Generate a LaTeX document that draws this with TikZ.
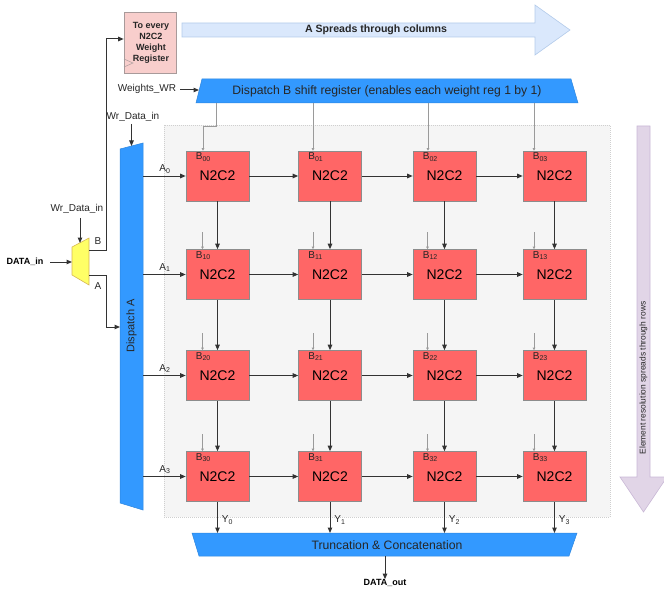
\documentclass[tikz,border=0pt]{standalone}
\usepackage{fontspec}
\setmainfont{Liberation Sans}
\usetikzlibrary{arrows.meta,calc}
\definecolor{cellred}{HTML}{FF6666}
\definecolor{cellborder}{HTML}{8C8C8C}
\definecolor{dispblue}{HTML}{3399FF}
\definecolor{dispdraw}{HTML}{2E86DE}
\definecolor{pinkf}{HTML}{F8CECC}
\definecolor{pinkd}{HTML}{A89A9A}
\definecolor{arrowblue}{HTML}{DAE8FC}
\definecolor{arrowbluedraw}{HTML}{B3CBEA}
\definecolor{lilac}{HTML}{E1D5E7}
\definecolor{lilacdraw}{HTML}{C9B8D6}
\definecolor{panel}{HTML}{F5F5F5}
\definecolor{paneldraw}{HTML}{CFCFCF}
\definecolor{muxy}{HTML}{FFFF66}
\definecolor{muxd}{HTML}{D6B656}
\definecolor{wirec}{HTML}{333333}
\definecolor{feedc}{HTML}{9A9A9A}
\begin{document}
\begin{tikzpicture}[x=1pt,y=-1pt,
  cell/.style={draw=cellborder, fill=cellred, line width=0.6pt, minimum width=63pt, minimum height=50pt, inner sep=0pt, font=\fontsize{14}{14}\selectfont},
  wire/.style={draw=wirec, line width=1pt, -{Triangle[length=5.5pt,width=4.5pt]}},
  feed/.style={draw=feedc, line width=0.6pt, -{Triangle[length=2.5pt,width=2.5pt]}},
  lbl/.style={font=\fontsize{10}{10}\selectfont, inner sep=0pt, text=black!85},
  blbl/.style={font=\fontsize{9}{9}\selectfont\bfseries, inner sep=0pt},
  disp/.style={fill=dispblue, draw=dispdraw, line width=0.5pt},
]
\useasboundingbox (0,0) rectangle (664,591);

% background panel
\draw[fill=panel, draw=paneldraw, dash pattern=on 1pt off 1pt] (164,125) rectangle (610,517);

% big arrows
\draw[fill=arrowblue, draw=arrowbluedraw, line width=0.6pt] (182,23) -- (535,23) -- (535,5) -- (570,30) -- (535,55) -- (535,37) -- (182,37) -- cycle;
\node[font=\fontsize{10.6}{10.6}\selectfont\bfseries, inner sep=0pt, text=black!85] (acol) at (376,29.5) {A Spreads through columns};
\draw[fill=lilac, draw=lilacdraw, line width=0.6pt] (637,126) -- (650,126) -- (650,477) -- (667,477) -- (643.5,512) -- (620,477) -- (637,477) -- cycle;
\node[font=\fontsize{8.4}{8.4}\selectfont, inner sep=0pt, rotate=90, text=black!85] (erow) at (643.5,378) {Element resolution spreads through rows};

% pink weight register box
\node[draw=pinkd, fill=pinkf, line width=0.6pt, minimum width=52pt, minimum height=61pt, inner sep=0pt] (wreg) at (150,42.5) {};
\node[font=\fontsize{9}{11}\selectfont\bfseries, align=center, inner sep=0pt, text=black!85] (wregt) at (151,43) {To every\\N2C2\\Weight\\Register};
\draw[draw=pinkd, line width=0.5pt] (124,59) -- (133,63) -- (124,67);

% dispatch B shift register
\draw[disp] (202,79) -- (571,79) -- (578,103) -- (196,103) -- cycle;
\node[font=\fontsize{12.2}{12.2}\selectfont, inner sep=0pt, text=black!85] (dispB) at (387,91) {Dispatch B shift register (enables each weight reg 1 by 1)};
\node[lbl] (wwr) at (147,89) {Weights\_WR};
\coordinate (dBin) at (199,90);
\draw[wire] (180,90) -- (dBin);

% dispatch A
\draw[disp] (120,149) -- (143,143) -- (143,510) -- (120,503) -- cycle;
\node[font=\fontsize{11}{11}\selectfont, inner sep=0pt, rotate=90, text=black!85] (dispA) at (131.5,326) {Dispatch A};
\node[lbl] (wdA) at (133,117) {Wr\_Data\_in};
\coordinate (dAtop) at (131.5,146);
\draw[wire] (131.5,124) -- (dAtop);

% mux
\draw[fill=muxy, draw=muxd, line width=0.6pt] (72,247) -- (89,238) -- (89,285) -- (72,275) -- cycle;
\coordinate (muxin) at (72,262);
\coordinate (muxsel) at (80,243);
\coordinate (muxB) at (89,250);
\coordinate (muxA) at (89,275);
\node[blbl] (din) at (25,262) {DATA\_in};
\draw[wire] (50,262) -- (muxin);
\node[lbl] (wdM) at (77,209) {Wr\_Data\_in};
\draw[wire] (80,218) -- (muxsel);
\node[lbl] (lB) at (98,241) {B};
\node[lbl] (lA) at (98,286) {A};
\coordinate (dAin) at (120,327);
\draw[wire] (muxB) -- (106,250) -- (106,39) -- (wreg.west |- 0,39);
\draw[wire] (muxA) -- (106,275) -- (106,327) -- (dAin);

% cells
\foreach \r/\y in {0/176,1/274.5,2/375.5,3/476.5}{
  \foreach \c/\x in {0/217.5,1/330,2/444.5,3/554.5}{
    \node[cell] (b\r\c) at (\x,\y) {N2C2};
    \node[lbl, anchor=north west] (lb\r\c) at ($(b\r\c.north west)+(10,2)$) {B\textsubscript{\r\c}};
  }
  \coordinate (aout\r) at (143,\y);
  \draw[wire] (aout\r) -- (b\r0.west);
  \node[lbl] (la\r) at (165,\y-7) {A\textsubscript{\r}};
}

% horizontal and vertical connections
\foreach \r in {0,1,2,3}{
  \foreach \c/\cc in {0/1,1/2,2/3}{
    \draw[wire] (b\r\c.east) -- (b\r\cc.west);
  }
}
\foreach \r/\rr in {0/1,1/2,2/3}{
  \foreach \c in {0,1,2,3}{
    \draw[wire] (b\r\c.south) -- (b\rr\c.north);
  }
}

% B feeds
\draw[feed] (216,103) -- (216,126) -- (203,126) -- (b00.north west -| 203,0);
\draw[feed] (313,103) -- (b01.north west -| 313,0);
\draw[feed] (428,103) -- (b02.north west -| 428,0);
\draw[feed] (534,103) -- (b03.north west -| 534,0);
\foreach \r in {1,2,3}{
  \foreach \c/\fx in {0/202.5,1/313,2/427.5,3/534}{
    \draw[feed] ($(b\r\c.north west -| \fx,0)+(0,-17)$) -- (b\r\c.north west -| \fx,0);
  }
}

% truncation & concatenation
\draw[disp] (192,533) -- (577,533) -- (569,556) -- (199,556) -- cycle;
\node[font=\fontsize{12.2}{12.2}\selectfont, inner sep=0pt, text=black!85] (trunc) at (387,545) {Truncation \& Concatenation};
\foreach \c/\x in {0/217.5,1/330,2/444.5,3/554.5}{
  \coordinate (tin\c) at (\x,533);
  \draw[wire] (b3\c.south) -- (tin\c);
  \node[lbl] (ly\c) at (\x+10,520) {Y\textsubscript{\c}};
}
\coordinate (tout) at (385,556);
\node[blbl] (dout) at (385,583) {DATA\_out};
\draw[wire] (tout) -- (dout.north);
\end{tikzpicture}
\end{document}
